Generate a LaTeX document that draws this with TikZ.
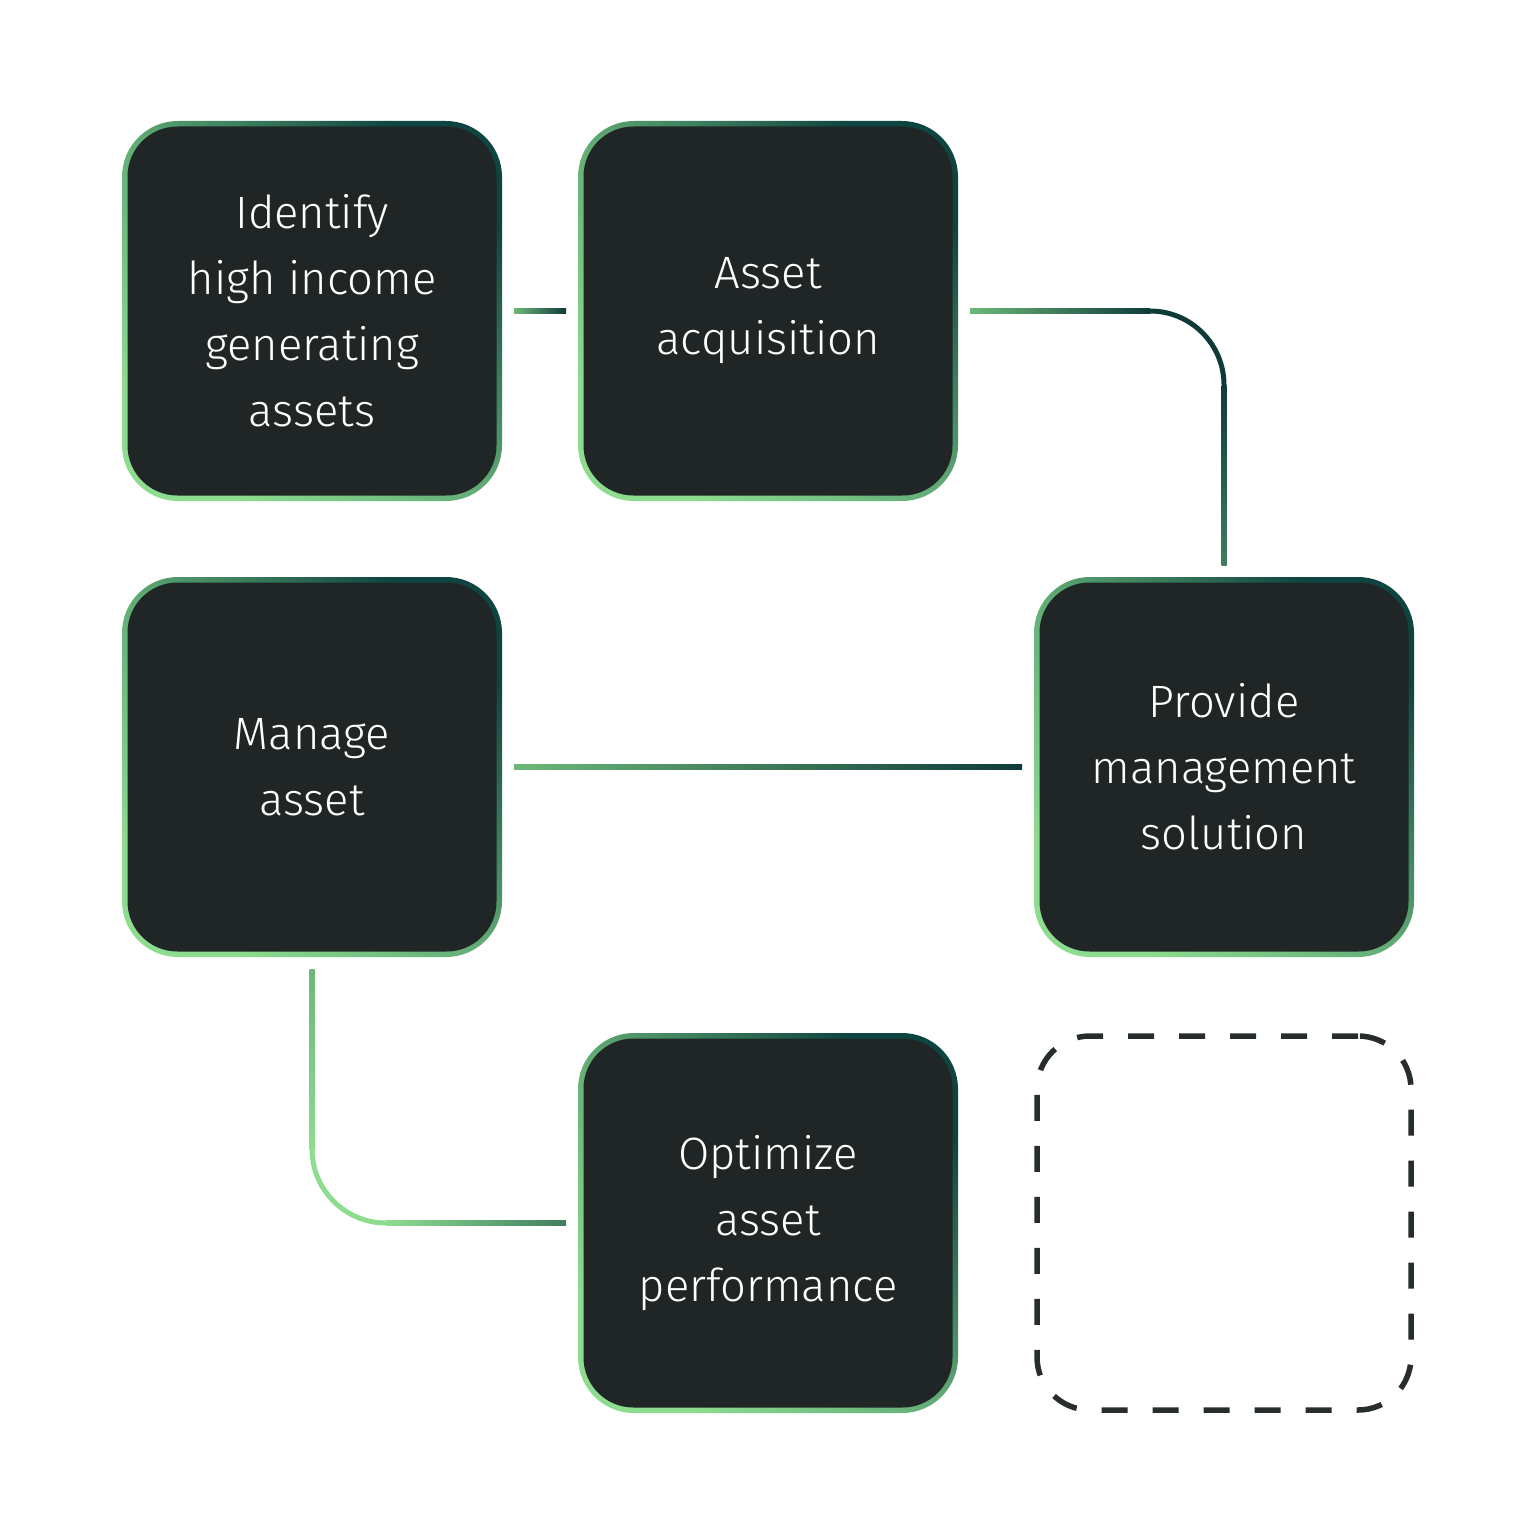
\documentclass[tikz,border=0pt]{standalone}
\usepackage{fontspec}
\setmainfont{Fira Sans Light}
\usetikzlibrary{positioning,calc}
\definecolor{boxbg}{HTML}{202626}
\definecolor{lightgreen}{HTML}{8EDC90}
\definecolor{linkgreen}{HTML}{6CB878}
\definecolor{rimgreen}{HTML}{5FAA74}
\definecolor{rimteal}{HTML}{0F4540}
\definecolor{midgreen}{HTML}{3F7D5F}
\definecolor{darkteal}{HTML}{0E3B3A}
\definecolor{dashgray}{HTML}{272C2C}

\begin{document}
\begin{tikzpicture}[node distance=0.76cm and 0.76cm,
stage/.style={minimum width=3.8cm,minimum height=3.8cm,inner sep=0pt,outer sep=0pt,rounded corners=0.56cm,
  bottom color=lightgreen,top color=rimteal,middle color=rimgreen,shading angle=-45,
  text=white,align=center,font=\fontsize{12.9}{18.8}\selectfont,
  path picture={\fill[boxbg,rounded corners=0.5cm] ($(path picture bounding box.south west)+(0.055,0.055)$) rectangle ($(path picture bounding box.north east)+(-0.055,-0.055)$);}},
slot/.style={minimum width=3.74cm,minimum height=3.74cm,outer sep=0pt,rounded corners=0.53cm,draw=dashgray,line width=0.055cm,dash pattern=on 0.26cm off 0.25cm},
link/.style={line width=0.05cm}]
\useasboundingbox (0,0) rectangle (15.36,-15.36);
\node[stage] (ident) at (3.12,-3.11) {Identify\\high income\\generating\\assets};
\node[stage,right=of ident] (acq) {Asset\\acquisition};
\node[stage,below=of ident] (manage) {Manage\\asset};
\node[stage,below right=of acq] (mgmt) {Provide\\management\\solution};
\node[stage,below right=of manage] (opt) {Optimize\\asset\\performance};
\node[slot,right=0.79cm of opt] (spare) {};
% identify -> acquisition
\shade[left color=linkgreen,right color=darkteal] ($(ident.east)+(0.12,-0.025)$) rectangle ($(acq.west)+(-0.12,0.025)$);
% acquisition -> management solution
\coordinate (bendA) at ($(acq.east -| mgmt.north)+(-0.74,0)$);
\shade[left color=linkgreen,right color=darkteal] ($(acq.east)+(0.12,-0.025)$) rectangle ($(bendA)+(0,0.025)$);
\draw[link,darkteal] (bendA) arc[start angle=90,end angle=0,radius=0.74];
\shade[top color=darkteal,bottom color=midgreen] ($(bendA)+(0.715,-0.74)$) rectangle ($(mgmt.north)+(0.025,0.12)$);
% manage -> management solution
\shade[left color=linkgreen,right color=darkteal] ($(manage.east)+(0.12,-0.025)$) rectangle ($(mgmt.west)+(-0.12,0.025)$);
% manage -> optimize
\coordinate (bendB) at ($(manage.south |- opt.west)+(0,0.74)$);
\shade[top color=linkgreen,bottom color=lightgreen] ($(manage.south)+(-0.025,-0.12)$) rectangle ($(bendB)+(0.025,0)$);
\draw[link,lightgreen] (bendB) arc[start angle=180,end angle=270,radius=0.74];
\shade[left color=lightgreen,right color=midgreen] ($(bendB)+(0.74,-0.715)$) rectangle ($(opt.west)+(-0.12,-0.025)$);
\end{tikzpicture}
\end{document}
